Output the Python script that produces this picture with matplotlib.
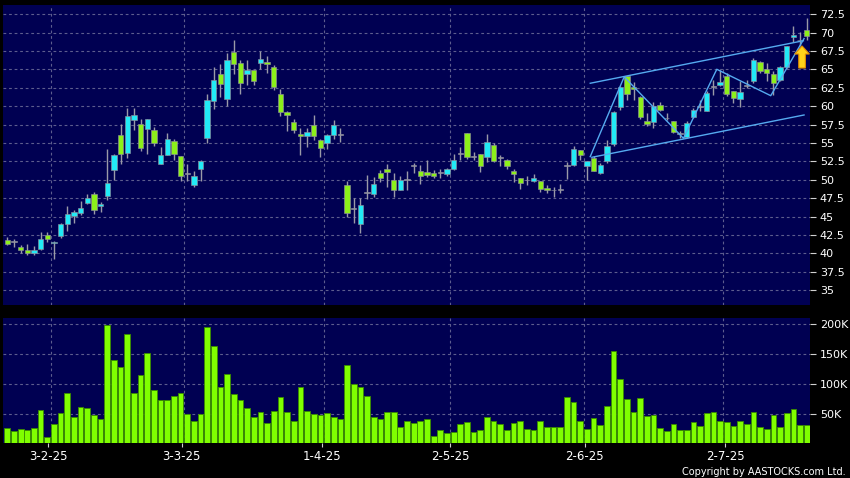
import matplotlib
matplotlib.use('Agg')
import matplotlib.pyplot as plt
from matplotlib.patches import FancyArrow
import numpy as np

# daily candles (index 0 .. 120)
opens = [41.88, 41.65, 40.88, 40.50, 40.10, 40.65, 42.55, 41.40, 42.37, 44.05,
         45.15, 45.55, 46.90, 48.10, 46.40, 47.75, 51.30, 56.15, 53.70, 58.20,
         57.65, 56.85, 56.80, 52.20, 53.40, 55.25, 53.30, 50.85, 49.35, 51.50,
         55.70, 60.70, 64.40, 60.99, 67.40, 65.90, 64.40, 64.90, 65.90, 66.00,
         65.30, 61.72, 59.28, 57.87, 56.29, 56.00, 57.50, 55.47, 55.06, 56.15,
         56.15, 49.36, 46.15, 44.06, 48.25, 48.13, 50.99, 51.53, 50.04, 48.68,
         50.05, 51.85, 51.26, 51.12, 50.94, 50.97, 50.85, 51.53, 53.52, 56.42,
         53.15, 53.57, 53.12, 54.70, 53.00, 52.75, 51.26, 50.26, 49.97, 49.81,
         49.81, 48.95, 48.62, 48.62, 51.90, 52.00, 54.00, 51.93, 52.97, 50.93,
         52.61, 54.87, 59.90, 64.07, 62.60, 61.21, 57.95, 57.86, 60.22, 58.45,
         57.95, 56.30, 55.82, 58.54, 60.05, 59.40, 62.75, 62.93, 64.16, 62.12,
         60.99, 62.75, 63.39, 65.97, 65.10, 64.43, 63.61, 65.34, 69.46, 69.05,
         70.32]
highs = [42.24, 42.00, 41.20, 41.25, 41.00, 42.87, 42.90, 41.65, 44.10, 46.40,
         45.95, 47.20, 48.10, 48.40, 47.00, 54.15, 53.55, 57.55, 59.80, 59.80,
         58.30, 58.30, 57.25, 54.45, 56.40, 55.50, 53.30, 52.10, 51.20, 52.75,
         61.70, 65.40, 65.80, 67.30, 68.96, 66.30, 66.30, 64.90, 67.50, 66.80,
         65.55, 62.40, 59.30, 58.30, 57.10, 57.10, 58.78, 55.60, 56.30, 58.20,
         57.10, 49.80, 47.55, 47.60, 50.70, 50.40, 51.40, 52.12, 50.94, 50.49,
         51.20, 52.26, 51.98, 52.66, 51.30, 51.50, 51.67, 53.57, 54.47, 56.42,
         53.80, 53.57, 56.20, 55.00, 53.34, 52.89, 51.53, 50.26, 50.49, 50.85,
         49.90, 49.27, 49.04, 49.41, 52.40, 54.60, 54.00, 52.60, 53.20, 52.30,
         55.46, 59.31, 62.80, 64.16, 63.25, 61.35, 59.08, 60.53, 60.53, 59.08,
         58.04, 56.60, 57.95, 59.76, 60.90, 62.03, 63.60, 64.97, 64.52, 62.12,
         63.39, 63.60, 66.56, 66.10, 65.88, 64.75, 65.43, 68.23, 70.95, 70.10,
         71.99]
lows = [41.10, 40.90, 40.10, 39.75, 39.85, 40.50, 41.55, 39.30, 42.15, 43.05,
        44.20, 45.20, 46.70, 45.40, 45.65, 47.30, 49.95, 52.10, 53.00, 56.80,
        53.90, 53.55, 54.55, 52.20, 53.40, 52.65, 49.85, 49.85, 49.00, 49.85,
        55.00, 59.70, 61.25, 60.10, 64.40, 61.70, 62.85, 62.85, 65.00, 64.55,
        62.20, 58.70, 56.65, 56.38, 53.34, 54.47, 55.47, 53.10, 54.20, 55.60,
        55.15, 44.96, 44.15, 42.79, 47.36, 47.68, 49.72, 49.04, 47.68, 48.59,
        48.60, 50.94, 49.50, 50.40, 50.26, 50.20, 50.49, 51.30, 52.75, 52.89,
        52.66, 51.08, 52.44, 52.44, 51.85, 51.53, 49.72, 48.81, 49.27, 49.72,
        48.36, 48.22, 47.68, 48.24, 50.10, 51.85, 52.74, 50.03, 51.16, 50.84,
        52.30, 54.56, 59.54, 60.90, 60.90, 58.27, 57.27, 57.05, 59.31, 58.09,
        56.37, 55.70, 55.69, 58.41, 59.31, 59.31, 61.58, 62.70, 61.35, 60.44,
        59.90, 62.48, 63.16, 64.50, 63.39, 61.58, 63.39, 65.20, 68.69, 68.14,
        69.05]
closes = [41.33, 41.55, 40.43, 40.10, 40.50, 42.00, 42.00, 41.60, 44.05, 45.40,
          45.60, 46.20, 47.60, 45.85, 46.75, 49.60, 53.40, 53.55, 58.70, 58.85,
          54.40, 58.25, 55.00, 53.35, 55.50, 53.55, 50.55, 50.75, 50.55, 52.50,
          60.80, 63.60, 63.05, 66.33, 65.80, 63.20, 64.90, 63.40, 66.40, 65.75,
          62.66, 59.23, 58.87, 56.83, 55.92, 56.56, 56.00, 54.38, 56.15, 57.42,
          56.10, 45.55, 46.05, 46.64, 48.30, 49.49, 50.26, 51.08, 48.68, 50.04,
          50.15, 51.95, 50.49, 50.72, 50.53, 50.90, 51.53, 52.75, 53.60, 53.12,
          53.10, 51.85, 55.15, 52.57, 52.95, 51.94, 50.85, 49.63, 49.92, 50.26,
          48.81, 48.63, 48.57, 48.58, 51.95, 54.15, 53.33, 52.52, 51.16, 52.07,
          54.65, 59.22, 62.57, 61.67, 62.35, 58.54, 57.64, 59.99, 59.54, 58.35,
          56.45, 56.22, 57.73, 59.45, 59.95, 61.80, 62.65, 63.30, 61.67, 61.12,
          61.94, 62.85, 66.33, 64.84, 64.52, 63.16, 65.29, 68.14, 69.73, 68.95,
          69.59]
volume_k = [25, 21, 24, 23, 25, 56, 11, 33, 51, 85,
            44, 61, 59, 48, 41, 199, 140, 128, 184, 84,
            115, 152, 89, 72, 73, 80, 84, 49, 37, 50,
            195, 163, 94, 117, 82, 73, 60, 44, 53, 34,
            55, 78, 53, 38, 94, 55, 50, 48, 51, 44,
            40, 132, 100, 94, 80, 45, 40, 52, 52, 28,
            37, 34, 37, 40, 12, 22, 18, 19, 32, 35,
            19, 23, 45, 38, 33, 22, 34, 38, 24, 23,
            37, 28, 28, 27, 77, 70, 38, 24, 43, 30,
            63, 155, 108, 74, 52, 76, 46, 47, 25, 20,
            32, 22, 22, 35, 29, 51, 53, 38, 35, 29,
            37, 33, 53, 27, 24, 47, 27, 51, 57, 30,
            30]

date_labels = ['3-2-25', '3-3-25', '1-4-25', '2-5-25', '2-6-25', '2-7-25']
date_pos = [6.1, 26.2, 47.3, 66.5, 86.7, 107.8]
grid_pos = [6.5, 26.5, 47.5, 66.5, 86.5, 107.5]

price_ticks = np.arange(35, 72.6, 2.5)
vol_ticks = [50, 100, 150, 200]

# hand drawn channel and zigzag
top_x, top_y = [87.5, 119.5], [63.13, 68.91]
bot_x, bot_y = [87.75, 119.6], [53.07, 58.82]
zig_x = [87.5, 92.6, 101.5, 106.5, 114.6, 119.6]
zig_y = [53.16, 64.0, 55.65, 65.03, 61.44, 69.2]

navy = '#000052'
grid_c = '#5d5d8e'
up_c = '#22eaf6'
dn_c = '#8cf01a'
line_c = '#55aaf0'

fig = plt.figure(figsize=(8.5, 4.78), dpi=100, facecolor='black')
ax = fig.add_axes([0.0039, 0.3619, 0.9491, 0.6276], facecolor=navy)
axv = fig.add_axes([0.0039, 0.0726, 0.9491, 0.2615], facecolor=navy, sharex=ax)

x = np.arange(len(opens))
o, h, l, c = map(np.array, (opens, highs, lows, closes))

for a in (ax, axv):
    for s in a.spines.values():
        s.set_visible(False)
    for g in grid_pos:
        a.axvline(g, color=grid_c, lw=0.8, ls=(0, (2.5, 2.5)), zorder=0)

for p in price_ticks:
    ax.axhline(p, color=grid_c, lw=0.8, ls=(0, (2.5, 2.5)), zorder=0)
for v in vol_ticks:
    axv.axhline(v, color=grid_c, lw=0.8, ls=(0, (2.5, 2.5)), zorder=0)

# candles
colors = []
for oo, cc in zip(o, c):
    if abs(cc - oo) < 0.15:
        colors.append('#a4a4b0')
    elif cc > oo:
        colors.append(up_c)
    else:
        colors.append(dn_c)
ax.vlines(x, l, h, color='#9a9aa8', lw=1, zorder=2)
ax.bar(x, np.maximum(np.abs(c - o), 0.12), bottom=np.minimum(o, c), width=0.8,
       color=colors, edgecolor='#8e8e9c', linewidth=0.45, zorder=3)

ax.plot(top_x, top_y, color=line_c, lw=1, zorder=4)
ax.plot(bot_x, bot_y, color=line_c, lw=1, zorder=4)
ax.plot(zig_x, zig_y, color=line_c, lw=1, zorder=4)

ax.add_patch(FancyArrow(119.3, 65.2, 0, 1.9, width=1.0, head_width=2.2, head_length=1.1,
                        length_includes_head=False, facecolor='#ffd21a', edgecolor='#e08a00',
                        lw=0.8, zorder=5))

ax.set_xlim(-0.6, 120.5)
ax.set_ylim(33.0, 73.76)
ax.yaxis.tick_right()
ax.set_yticks(price_ticks)
ax.set_yticklabels(['%g' % p for p in price_ticks])
ax.tick_params(axis='y', colors='#d0d0d0', labelcolor='white', length=4, width=0.8,
               pad=3, labelsize=8)
ax.tick_params(axis='x', bottom=False, labelbottom=False)

# volume
axv.bar(x, volume_k, width=0.86, color='#80ff00', edgecolor='#3a8c00', linewidth=0.6, zorder=2)
axv.set_ylim(0, 210)
axv.yaxis.tick_right()
axv.set_yticks(vol_ticks)
axv.set_yticklabels(['%dK' % v for v in vol_ticks])
axv.tick_params(axis='y', colors='#d0d0d0', labelcolor='white', length=4, width=0.8,
                pad=3, labelsize=8)
axv.set_xticks(date_pos)
axv.set_xticklabels(date_labels)
axv.tick_params(axis='x', colors='#d0d0d0', labelcolor='white', length=3, width=0.8,
                pad=2, labelsize=8.5)

fig.text(0.995, 0.002, 'Copyright by AASTOCKS.com Ltd.', color='white', fontsize=7,
         ha='right', va='bottom')

fig.savefig('out.png', dpi=100, facecolor='black')
